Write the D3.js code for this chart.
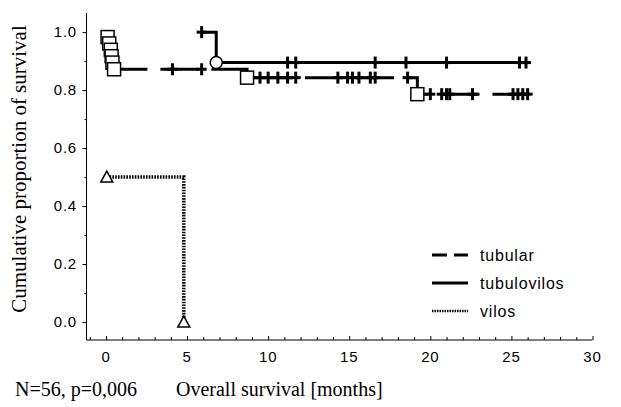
<!DOCTYPE html>
<html>
<head>
<meta charset="utf-8">
<script src="https://cdn.jsdelivr.net/npm/d3@7"></script>
<style>
  body { margin: 0; background: #fff; }
  svg { display: block; }
</style>
</head>
<body>
<svg id="km"></svg>
<script>
const width = 621, height = 407;

// tubular: event times / survival after event, censored times
const tubEventT = [0.1, 0.2, 0.3, 0.35, 0.4, 0.5, 8.7, 19.2];
const tubEventS = [0.983, 0.961, 0.939, 0.917, 0.895, 0.872, 0.843, 0.786];
const tubCensT = [4.1, 5.9, 9.5, 10.0, 10.6, 11.2, 11.7, 14.3, 14.9, 15.2, 15.6, 16.3, 16.6, 18.6,
                  20.0, 20.7, 21.0, 21.2, 22.6, 25.1, 25.4, 25.7, 26.0];
const tubEnd = 26.1;

// tubulovilos
const tvStart = 5.9;
const tvEventT = [6.8];
const tvEventS = [0.895];
const tvCensT = [5.9, 11.2, 11.7, 16.6, 18.5, 21.0, 25.5, 25.9];
const tvEnd = 26.1;

// vilos
const vEventT = [0.05, 4.8];
const vEventS = [0.5, 0.0];

const xTicks = [0, 5, 10, 15, 20, 25, 30];
const yTicks = [0, 0.2, 0.4, 0.6, 0.8, 1.0];
const legendNames = ["tubular", "tubulovilos", "vilos"];

const svg = d3.select("#km").attr("width", width).attr("height", height);

const x = d3.scaleLinear().domain([-1.2, 30]).range([86.5, 592.5]);
const y = d3.scaleLinear().domain([-0.062, 1.066]).range([340, 13]);

// axes
const yAxis = d3.axisLeft(y).tickValues(d3.range(0, 1.01, 0.1)).tickSize(4).tickFormat("");
const gy = svg.append("g").attr("transform", "translate(86.5,0)").call(yAxis);
gy.select(".domain").attr("d", "M0,13V340").attr("stroke", "#000");
gy.selectAll(".tick line").attr("x2", d => (Math.round(d * 10) % 2 === 0) ? -4 : -2);

svg.append("g").selectAll("text").data(yTicks).join("text")
  .attr("x", 77).attr("y", d => y(d) + 5)
  .attr("text-anchor", "end")
  .style("font-family", "Liberation Sans, Arial, sans-serif")
  .style("font-size", "15px").style("letter-spacing", "0.8px")
  .text(d => d.toFixed(1));

const xAxis = d3.axisBottom(x).tickValues(d3.range(-1, 30.01, 1)).tickSizeInner(-3).tickSizeOuter(0).tickFormat("");
const gx = svg.append("g").attr("transform", "translate(0,340)").call(xAxis);
gx.select(".domain").attr("d", "M86.5,0H592.5").attr("stroke", "#000");
gx.selectAll(".tick line").attr("y2", d => d % 5 === 0 ? -4 : -3);

svg.append("g").selectAll("text").data(xTicks).join("text")
  .attr("x", d => x(d)).attr("y", 362)
  .attr("text-anchor", "middle")
  .style("font-family", "Liberation Sans, Arial, sans-serif")
  .style("font-size", "15px").style("letter-spacing", "0.8px")
  .text(d => d);

// titles
svg.append("text")
  .attr("transform", "translate(26,169) rotate(-90)")
  .attr("text-anchor", "middle")
  .style("font-family", "Liberation Serif, Times New Roman, serif")
  .style("font-size", "21px")
  .text("Cumulative proportion of survival");

svg.append("text").attr("x", 15).attr("y", 396)
  .style("font-family", "Liberation Serif, Times New Roman, serif")
  .style("font-size", "20px")
  .text("N=56, p=0,006");

svg.append("text").attr("x", 176).attr("y", 396)
  .style("font-family", "Liberation Serif, Times New Roman, serif")
  .style("font-size", "20px")
  .text("Overall survival [months]");

// step helpers
function stepPath(t0, s0, ts, ss, tEnd) {
  let p = d3.path();
  p.moveTo(x(t0), y(s0));
  ts.forEach((t, i) => { p.lineTo(x(t), p._y1); p.lineTo(x(t), y(ss[i])); });
  if (tEnd != null) p.lineTo(x(tEnd), p._y1);
  return p.toString();
}
function survAt(s0, ts, ss, t) {
  let s = s0;
  ts.forEach((e, i) => { if (e <= t) s = ss[i]; });
  return s;
}

const curves = svg.append("g").attr("fill", "none").attr("stroke", "#000");

// tubular
curves.append("path")
  .attr("d", stepPath(tubEventT[0], tubEventS[0], tubEventT.slice(1), tubEventS.slice(1), tubEnd))
  .attr("stroke-width", 3).attr("stroke-dasharray", "38,13").attr("stroke-dashoffset", 17);
// tubulovilos
curves.append("path")
  .attr("d", stepPath(tvStart, 1.0, tvEventT, tvEventS, tvEnd))
  .attr("stroke-width", 3);
// vilos
curves.append("path")
  .attr("d", stepPath(vEventT[0], vEventS[0], vEventT.slice(1), vEventS.slice(1), null))
  .attr("stroke-width", 3.5).attr("stroke-dasharray", "1.6,1.2");

// censor marks
function censors(ts, s0, evT, evS) {
  const g = svg.append("g").attr("stroke", "#000").attr("stroke-width", 3);
  ts.forEach(t => {
    const cx = x(t), cy = y(survAt(s0, evT, evS, t));
    g.append("line").attr("x1", cx).attr("x2", cx).attr("y1", cy - 6).attr("y2", cy + 6);
    g.append("line").attr("x1", cx - 5).attr("x2", cx + 5).attr("y1", cy).attr("y2", cy);
  });
}
censors(tubCensT, 1.0, tubEventT, tubEventS);
censors(tvCensT, 1.0, tvEventT, tvEventS);

// event markers
svg.append("g").selectAll("rect").data(tubEventT).join("rect")
  .attr("x", d => x(d) - 6.5).attr("y", (d, i) => y(tubEventS[i]) - 6.5)
  .attr("width", 13).attr("height", 13)
  .attr("fill", "#fff").attr("stroke", "#000").attr("stroke-width", 1.5);

svg.append("g").selectAll("circle").data(tvEventT).join("circle")
  .attr("cx", d => x(d)).attr("cy", (d, i) => y(tvEventS[i])).attr("r", 6)
  .attr("fill", "#fff").attr("stroke", "#000").attr("stroke-width", 1.5);

svg.append("g").selectAll("path").data(vEventT).join("path")
  .attr("d", (d, i) => {
    const cx = x(d), cy = y(vEventS[i]);
    return `M${cx},${cy - 6}L${cx + 6},${cy + 5}L${cx - 6},${cy + 5}Z`;
  })
  .attr("fill", "#fff").attr("stroke", "#000").attr("stroke-width", 1.5);

// legend
const legY = d3.scalePoint().domain(legendNames).range([255, 311]);
const leg = svg.append("g");
leg.selectAll("line").data(legendNames).join("line")
  .attr("x1", 432).attr("x2", 468)
  .attr("y1", d => legY(d)).attr("y2", d => legY(d))
  .attr("stroke", "#000")
  .attr("stroke-width", d => d === "vilos" ? 2.5 : 3)
  .attr("stroke-dasharray", d => d === "tubular" ? "15,7" : d === "vilos" ? "1.5,1" : null);
leg.selectAll("text").data(legendNames).join("text")
  .attr("x", 480).attr("y", d => legY(d) + 5.5)
  .style("font-family", "Liberation Sans, Arial, sans-serif")
  .style("font-size", "16px").style("letter-spacing", "0.8px")
  .text(d => d);
</script>
</body>
</html>
